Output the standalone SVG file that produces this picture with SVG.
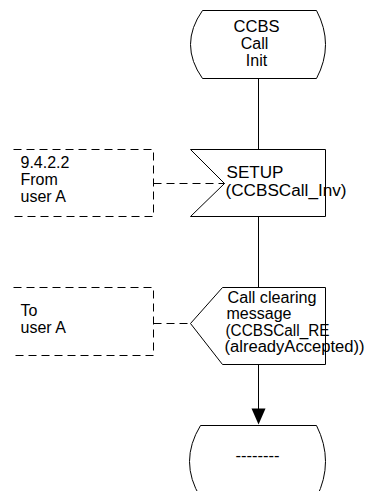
<svg xmlns="http://www.w3.org/2000/svg" width="373" height="491" viewBox="0 0 373 491">
<style>
.s{fill:none;stroke:#000;stroke-width:1}
.d{fill:none;stroke:#000;stroke-width:1;stroke-dasharray:8,5}
.t{font-family:"Liberation Sans",Arial,sans-serif;font-size:16px;fill:#000}
.m{text-anchor:middle}
</style>
<rect width="373" height="491" fill="#fff"/>
<g transform="translate(0.5,0.5)">
<g id="connectors">
<line class="s" x1="258" y1="78" x2="258" y2="149"/>
<line class="s" x1="258" y1="216" x2="258" y2="287"/>
<line class="s" x1="258" y1="364" x2="258" y2="410"/>
<polygon points="251,408 265,408 258,424" fill="#000"/>
<line class="d" x1="153" y1="183" x2="224" y2="183"/>
<line class="d" x1="153" y1="323" x2="190" y2="323"/>
</g>
<g id="start">
<path class="s" d="M202,10 L316,10 Q334,44 316,78 L202,78 Q178,44 202,10 Z"/>
<text class="t m" x="256" y="31" textLength="46" lengthAdjust="spacingAndGlyphs">CCBS</text>
<text class="t m" x="254" y="48">Call</text>
<text class="t m" x="256" y="65">Init</text>
</g>
<g id="setup">
<polygon class="s" points="190,149 325,149 325,216 190,216 224,183"/>
<text class="t" x="226" y="177.5" textLength="57" lengthAdjust="spacingAndGlyphs">SETUP</text>
<text class="t" x="225" y="195" textLength="121" lengthAdjust="spacingAndGlyphs">(CCBSCall_Inv)</text>
</g>
<g id="comment1">
<polyline class="d" points="13,149 153,149 153,216 13,216"/>
<text class="t" x="20" y="167">9.4.2.2</text>
<text class="t" x="20" y="184">From</text>
<text class="t" x="20" y="201">user A</text>
</g>
<g id="clearing">
<polygon class="s" points="222,287 325,287 325,364 222,364 190,323"/>
<text class="t" x="227" y="302" textLength="89" lengthAdjust="spacingAndGlyphs">Call clearing</text>
<text class="t" x="226" y="318.5">message</text>
<text class="t" x="225" y="335" textLength="104" lengthAdjust="spacingAndGlyphs">(CCBSCall_RE</text>
<text class="t" x="224" y="351.5" textLength="140" lengthAdjust="spacingAndGlyphs">(alreadyAccepted))</text>
</g>
<g id="comment2">
<polyline class="d" points="13,287 153,287 153,355 13,355"/>
<text class="t" x="20" y="315">To</text>
<text class="t" x="20" y="332">user A</text>
</g>
<g id="end">
<path class="s" d="M200,425 L316,425 Q334,461 316,497 L200,497 Q178,461 200,425 Z"/>
<text class="t m" x="257" y="460" textLength="44" lengthAdjust="spacingAndGlyphs">--------</text>
</g>
</g>
</svg>
